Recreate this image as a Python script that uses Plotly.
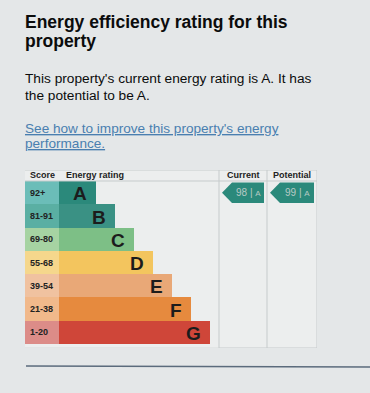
import plotly.graph_objects as go

# ---- data ----
bands = ["A", "B", "C", "D", "E", "F", "G"]
score_labels = ["92+", "81-91", "69-80", "55-68", "39-54", "21-38", "1-20"]
band_min = [92, 81, 69, 55, 39, 21, 1]
band_steps = [2, 3, 4, 5, 6, 7, 8]          # relative bar length (band rank)
bar_colors = ["#2b897b", "#3a9184", "#7dbf86", "#f3c55e", "#e9a877", "#e68a3e", "#cf4639"]
score_colors = ["#6bbdb8", "#5aafa3", "#a6d3a2", "#f5d78c", "#f0c2a0", "#f1b98b", "#dc8c88"]
current_score = 98
potential_score = 99
column_titles = ["Current", "Potential"]

W, H = 370, 393
def py(v):
    return 1 - v / H

def band_of(score):
    for i, m in enumerate(band_min):
        if score >= m:
            return i
    return len(band_min) - 1

fig = go.Figure()

SCORE_W = 34
STEP = 19
lengths = [STEP * s - 1 for s in band_steps]
rows = list(range(len(bands)))

# score cells
fig.add_trace(go.Bar(
    y=rows, x=[SCORE_W] * len(rows), base=0, orientation="h", width=1,
    marker=dict(color=score_colors, line=dict(width=0)), hoverinfo="skip",
    showlegend=False))
# rating bars
fig.add_trace(go.Bar(
    y=rows, x=lengths, base=SCORE_W, orientation="h", width=1,
    marker=dict(color=bar_colors, line=dict(width=0)), hoverinfo="skip",
    showlegend=False))

for i in rows:
    fig.add_annotation(x=2.5, y=i, xref="x", yref="y", text=f"<b>{score_labels[i]}</b>",
                       showarrow=False, xanchor="left",
                       font=dict(size=9, color="#222", family="Liberation Sans, Arial"))
    fig.add_annotation(x=SCORE_W + lengths[i], y=i + 0.05, xref="x", yref="y",
                       text=f"<b>{bands[i]}</b>", showarrow=False, xanchor="right", xshift=-7,
                       font=dict(size=19, color="#1c1c1c", family="Liberation Sans, Arial"))

# columns
COLS = [(194, 242), (242, 292)]
for (x0, x1), sc, title in zip(COLS, [current_score, potential_score], column_titles):
    r = band_of(sc)
    top, bot = r - 0.43, r + 0.45
    mid = r
    xs = [x0 + 3, x0 + 13, x1 - 3, x1 - 3, x0 + 13, x0 + 3]
    ys = [mid, top, top, bot, bot, mid]
    fig.add_trace(go.Scatter(x=xs, y=ys, fill="toself", mode="lines",
                             fillcolor=bar_colors[r], line=dict(width=0, color=bar_colors[r]),
                             hoverinfo="skip", showlegend=False))
    fig.add_annotation(x=(x0 + 13 + x1 - 3) / 2, y=mid, xref="x", yref="y",
                       text=f"{sc} | <span style='font-size:8px'>{bands[r]}</span>",
                       showarrow=False, font=dict(size=10, color="#b9c9c5",
                                                  family="Liberation Sans, Arial"))
    fig.add_annotation(x=(x0 + x1) / 2, y=-0.75, xref="x", yref="y", text=f"<b>{title}</b>",
                       showarrow=False, font=dict(size=9, color="#222",
                                                  family="Liberation Sans, Arial"))

# table lines
line_c = "#c6cbcc"
YTOP, YBOT = -0.972, 6.67
shapes = [
    dict(type="line", xref="x", yref="y", x0=0, x1=292, y0=YTOP, y1=YTOP, line=dict(color=line_c, width=1)),
    dict(type="line", xref="x", yref="y", x0=0, x1=292, y0=-0.5, y1=-0.5, line=dict(color=line_c, width=1)),
    dict(type="line", xref="x", yref="y", x0=194, x1=292, y0=YBOT, y1=YBOT, line=dict(color=line_c, width=1)),
    dict(type="line", xref="x", yref="y", x0=0, x1=194, y0=YBOT, y1=YBOT, line=dict(color="#d8dcdc", width=1)),
    dict(type="line", xref="x", yref="y", x0=194, x1=194, y0=YTOP, y1=YBOT, line=dict(color=line_c, width=1)),
    dict(type="line", xref="x", yref="y", x0=242, x1=242, y0=YTOP, y1=YBOT, line=dict(color=line_c, width=1)),
    dict(type="line", xref="x", yref="y", x0=292, x1=292, y0=YTOP, y1=YBOT, line=dict(color=line_c, width=1)),
    dict(type="rect", xref="x", yref="y", x0=0, x1=292, y0=YTOP, y1=YBOT, fillcolor="#eceeee",
         line=dict(width=0), layer="below"),
    dict(type="line", xref="paper", yref="paper", x0=26 / W, x1=1, y0=py(366), y1=py(367),
         line=dict(color="#5b6b7c", width=1.5)),
]
fig.add_annotation(x=2.5, y=-0.75, xref="x", yref="y", text="<b>Score</b>", showarrow=False,
                   xanchor="left", font=dict(size=9, color="#222", family="Liberation Sans, Arial"))
fig.add_annotation(x=SCORE_W + 5, y=-0.75, xref="x", yref="y", text="<b>Energy rating</b>",
                   showarrow=False, xanchor="left",
                   font=dict(size=9, color="#222", family="Liberation Sans, Arial"))

# page text
FONT = "Liberation Sans, Arial"
texts = [
    ("<b>Energy efficiency rating for this</b>", 22, 17.5, "#0b0c0c"),
    ("<b>property</b>", 41, 17.5, "#0b0c0c"),
    ("This property's current energy rating is A. It has", 78, 13.7, "#0b0c0c"),
    ("the potential to be A.", 95, 13.7, "#0b0c0c"),
    ("<u>See how to improve this property's energy</u>", 128, 13.6, "#4a7fb0"),
    ("<u>performance.</u>", 143, 13.6, "#4a7fb0"),
]
for t, yy, s, c in texts:
    fig.add_annotation(x=23 / W, y=py(yy), xref="paper", yref="paper", text=t, showarrow=False,
                       xanchor="left", yanchor="middle", font=dict(size=s, color=c, family=FONT))

fig.update_layout(
    width=W, height=H, margin=dict(l=0, r=0, t=0, b=0),
    paper_bgcolor="#e4e7e8", plot_bgcolor="rgba(0,0,0,0)",
    shapes=shapes, barmode="overlay", bargap=0,
    xaxis=dict(domain=[25 / W, 317 / W], range=[0, 292], visible=False, fixedrange=True),
    yaxis=dict(domain=[py(348), py(170)], range=[YBOT, YTOP], visible=False, fixedrange=True),
)
fig.write_html("out.html", config={"displayModeBar": False},
               post_script="document.body.style.margin='0';document.body.style.overflow='hidden';")
